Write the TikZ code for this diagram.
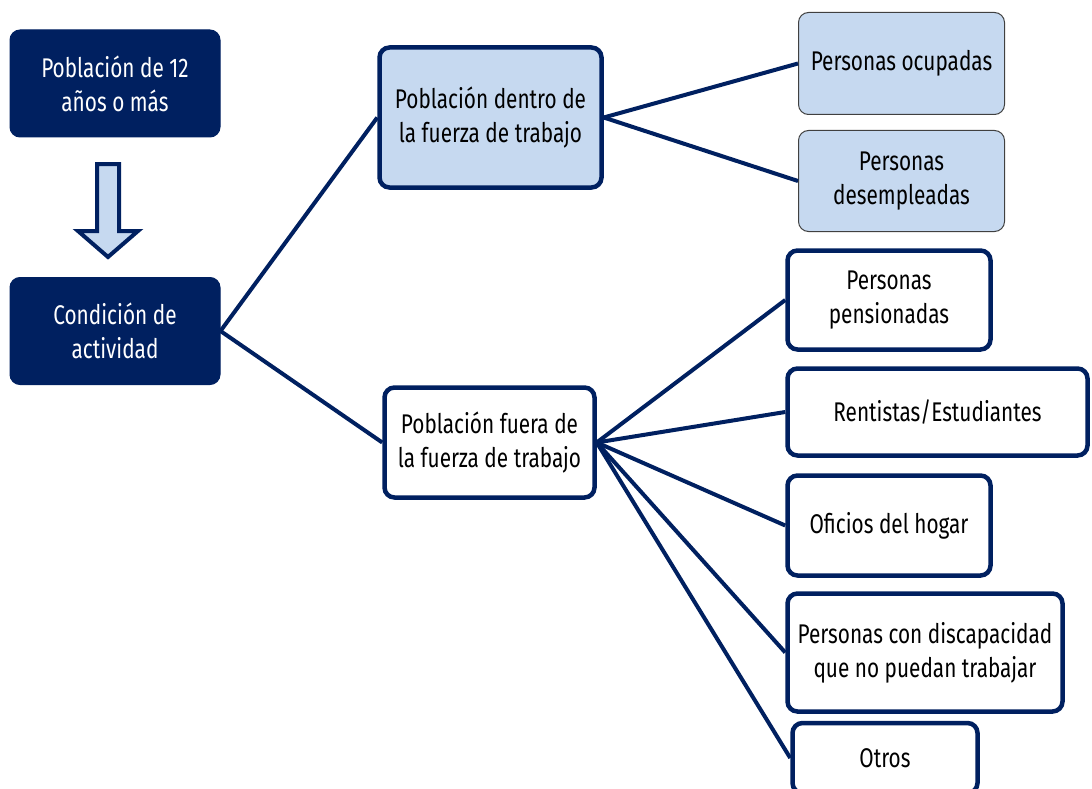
\documentclass[tikz,border=0pt]{standalone}
\usepackage{fontspec}
\setmainfont{Fira Sans}[FakeStretch=0.77]
\usetikzlibrary{positioning}
\definecolor{navy}{HTML}{002060}
\definecolor{paleblue}{HTML}{C6D9F0}

\begin{document}
\begin{tikzpicture}[
  x=1pt, y=-1pt,
  font=\fontsize{27}{34}\selectfont,
  base/.style={rounded corners=10pt, align=center, inner sep=4pt},
  dark/.style={base, fill=navy, draw=navy, text=white, line width=1pt},
  inbox/.style={base, fill=paleblue, draw=navy, line width=4.5pt},
  outbox/.style={base, fill=white, draw=navy, line width=4.5pt},
  leaf/.style={base, fill=paleblue, draw=black!75, line width=1pt},
  link/.style={draw=navy, line width=4pt},
  blockarrow/.style={fill=paleblue, draw=navy, line width=4pt, line join=miter}
]
  \clip (0,0) rectangle (1092,789);

  % left column
  \node[dark, minimum width=210pt, minimum height=107pt] (pob) at (115,83.5) {Población de 12\\años o más};
  \node[dark, minimum width=210pt, minimum height=107pt] (cond) at (115,331) {Condición de\\actividad};
  \draw[blockarrow] (97,164) -- (119,164) -- (119,231) -- (138,231) -- (108,257)
    -- (78,231) -- (97,231) -- cycle;

  % middle column
  \node[inbox, minimum width=222pt, minimum height=140pt] (dentro) at (490.5,117.5) {Población dentro de\\la fuerza de trabajo};
  \node[outbox, minimum width=210pt, minimum height=110pt] (fuera) at (489.5,442.5) {Población fuera de\\la fuerza de trabajo};

  % right column
  \node[leaf, minimum width=206pt, minimum height=102pt] (ocup) at (901.5,63.5) {Personas ocupadas};
  \node[leaf, minimum width=206pt, minimum height=101pt] (desemp) at (901.5,181) {Personas\\desempleadas};
  \node[outbox, minimum width=203pt, minimum height=99pt] (pension) at (889,300) {Personas\\pensionadas};
  \node[outbox, minimum width=300pt, minimum height=87pt] (rent) at (937.5,412) {Rentistas/Estudiantes};
  \node[outbox, minimum width=203pt, minimum height=100pt] (hogar) at (889,525.5) {Oficios del hogar};
  \node[outbox, minimum width=275pt, minimum height=118pt] (discap) at (925,652.5) {Personas con discapacidad\\que no puedan trabajar};
  \node[outbox, minimum width=185pt, minimum height=70pt] (otros) at (885,758) {Otros};

  \draw[link] (cond.east) -- (dentro.west);
  \draw[link] (cond.east) -- (fuera.west);
  \draw[link] (dentro.east) -- (ocup.west);
  \draw[link] (dentro.east) -- (desemp.west);
  \foreach \leaf in {pension,rent,hogar,discap,otros}
    \draw[link] (fuera.east) -- (\leaf.west);
\end{tikzpicture}
\end{document}
